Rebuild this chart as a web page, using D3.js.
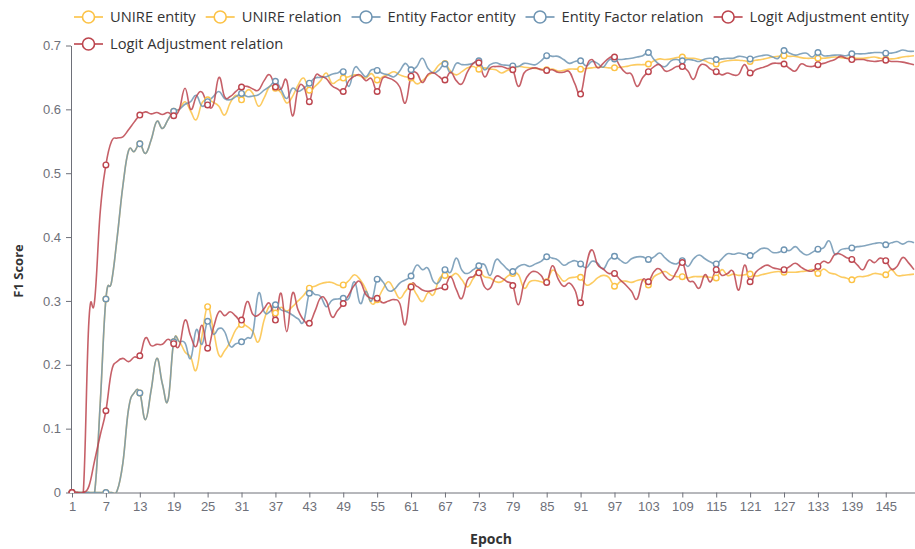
<!DOCTYPE html>
<html>
<head>
<meta charset="utf-8">
<script src="https://cdn.jsdelivr.net/npm/d3@7"></script>
<style>
  html, body { margin: 0; padding: 0; background: #fff; }
  svg { display: block; font-family: "Open Sans", "Noto Sans", sans-serif; }
</style>
</head>
<body>
<svg id="chart" width="915" height="549"></svg>
<script>
// epochs 1..150
var epochs = d3.range(1, 151);
var yTicks = [0, 0.1, 0.2, 0.3, 0.4, 0.5, 0.6, 0.7];

var unireEntity = [
  0, 0, 0, 0, 0, 0.14, 0.303, 0.33, 0.40, 0.48,
  0.535, 0.534, 0.546, 0.531, 0.552, 0.581, 0.570, 0.584, 0.597, 0.600,
  0.612, 0.597, 0.584, 0.610, 0.615, 0.611, 0.605, 0.591, 0.610, 0.622,
  0.615, 0.630, 0.625, 0.605, 0.618, 0.636, 0.633, 0.626, 0.610, 0.620,
  0.638, 0.649, 0.630, 0.636, 0.645, 0.657, 0.641, 0.645, 0.649, 0.651,
  0.654, 0.652, 0.649, 0.656, 0.646, 0.651, 0.655, 0.659, 0.654, 0.651,
  0.649, 0.640, 0.645, 0.653, 0.659, 0.670, 0.672, 0.660, 0.654, 0.659,
  0.665, 0.667, 0.663, 0.665, 0.663, 0.662, 0.657, 0.661, 0.664, 0.667,
  0.666, 0.665, 0.664, 0.663, 0.662, 0.663, 0.660, 0.661, 0.663, 0.663,
  0.663, 0.664, 0.665, 0.666, 0.666, 0.665, 0.665, 0.666, 0.667, 0.669,
  0.670, 0.670, 0.671, 0.676, 0.679, 0.678, 0.679, 0.681, 0.682, 0.680,
  0.680, 0.678, 0.676, 0.672, 0.671, 0.674, 0.676, 0.677, 0.677, 0.676,
  0.675, 0.677, 0.678, 0.680, 0.682, 0.683, 0.684, 0.683, 0.683, 0.681,
  0.680, 0.680, 0.680, 0.680, 0.681, 0.682, 0.681, 0.680, 0.680, 0.680,
  0.680, 0.681, 0.682, 0.680, 0.679, 0.679, 0.680, 0.682, 0.683, 0.684
];
var unireRelation = [
  0, 0, 0, 0, 0, 0, 0, 0, 0.003, 0.046,
  0.13, 0.156, 0.156, 0.114, 0.16, 0.21, 0.17, 0.145, 0.236, 0.236,
  0.22, 0.212, 0.192, 0.245, 0.291, 0.255, 0.215, 0.222, 0.236, 0.255,
  0.263, 0.260, 0.252, 0.236, 0.270, 0.292, 0.281, 0.290, 0.284, 0.291,
  0.300, 0.309, 0.320, 0.323, 0.327, 0.329, 0.329, 0.325, 0.325, 0.332,
  0.341, 0.333, 0.318, 0.296, 0.302, 0.318, 0.330, 0.318, 0.304, 0.315,
  0.323, 0.310, 0.299, 0.313, 0.310, 0.335, 0.340, 0.338, 0.343, 0.333,
  0.322, 0.335, 0.345, 0.338, 0.336, 0.330, 0.330, 0.338, 0.343, 0.341,
  0.320, 0.330, 0.332, 0.330, 0.330, 0.348, 0.341, 0.331, 0.336, 0.337,
  0.337, 0.325, 0.328, 0.336, 0.340, 0.337, 0.323, 0.330, 0.331, 0.329,
  0.332, 0.333, 0.325, 0.338, 0.343, 0.346, 0.340, 0.338, 0.338, 0.336,
  0.338, 0.338, 0.338, 0.337, 0.336, 0.349, 0.340, 0.342, 0.340, 0.341,
  0.342, 0.339, 0.341, 0.343, 0.345, 0.346, 0.345, 0.345, 0.345, 0.346,
  0.347, 0.349, 0.343, 0.350, 0.344, 0.342, 0.338, 0.336, 0.333, 0.338,
  0.338, 0.340, 0.343, 0.342, 0.341, 0.349, 0.340, 0.340, 0.341, 0.342
];
var factorEntity = [
  0, 0, 0, 0, 0, 0.14, 0.303, 0.33, 0.40, 0.48,
  0.535, 0.534, 0.546, 0.531, 0.552, 0.581, 0.570, 0.584, 0.597, 0.600,
  0.608, 0.612, 0.622, 0.605, 0.612, 0.620, 0.628, 0.617, 0.615, 0.620,
  0.625, 0.620, 0.621, 0.623, 0.630, 0.636, 0.644, 0.631, 0.617, 0.633,
  0.628, 0.633, 0.641, 0.649, 0.650, 0.651, 0.655, 0.657, 0.659, 0.636,
  0.665, 0.660, 0.651, 0.662, 0.661, 0.656, 0.654, 0.651, 0.660, 0.672,
  0.662, 0.667, 0.680, 0.664, 0.657, 0.662, 0.671, 0.657, 0.672, 0.670,
  0.670, 0.672, 0.676, 0.662, 0.670, 0.673, 0.670, 0.669, 0.668, 0.667,
  0.672, 0.671, 0.670, 0.676, 0.684, 0.683, 0.683, 0.678, 0.672, 0.675,
  0.676, 0.668, 0.675, 0.672, 0.666, 0.677, 0.679, 0.678, 0.679, 0.680,
  0.682, 0.684, 0.689, 0.678, 0.670, 0.667, 0.676, 0.678, 0.676, 0.678,
  0.677, 0.675, 0.679, 0.680, 0.678, 0.679, 0.680, 0.680, 0.683, 0.682,
  0.679, 0.682, 0.684, 0.685, 0.682, 0.680, 0.692, 0.688, 0.685, 0.687,
  0.688, 0.682, 0.689, 0.684, 0.684, 0.685, 0.685, 0.684, 0.687, 0.687,
  0.687, 0.688, 0.689, 0.689, 0.688, 0.688, 0.690, 0.693, 0.691, 0.691
];
var factorRelation = [
  0, 0, 0, 0, 0, 0, 0, 0, 0.003, 0.046,
  0.13, 0.156, 0.156, 0.114, 0.16, 0.21, 0.17, 0.145, 0.236, 0.236,
  0.234, 0.210, 0.255, 0.232, 0.268, 0.248, 0.257, 0.252, 0.229, 0.233,
  0.236, 0.242, 0.250, 0.312, 0.283, 0.283, 0.294, 0.286, 0.283, 0.278,
  0.272, 0.268, 0.312, 0.310, 0.307, 0.291, 0.301, 0.303, 0.304, 0.304,
  0.330, 0.296, 0.315, 0.300, 0.334, 0.330, 0.316, 0.318, 0.328, 0.333,
  0.339, 0.356, 0.349, 0.351, 0.330, 0.330, 0.349, 0.345, 0.367, 0.348,
  0.343, 0.349, 0.355, 0.357, 0.340, 0.364, 0.359, 0.350, 0.346, 0.354,
  0.357, 0.354, 0.358, 0.362, 0.369, 0.367, 0.364, 0.356, 0.360, 0.363,
  0.358, 0.352, 0.362, 0.359, 0.350, 0.364, 0.370, 0.364, 0.359, 0.366,
  0.369, 0.369, 0.365, 0.369, 0.375, 0.367, 0.360, 0.358, 0.363, 0.354,
  0.366, 0.372, 0.366, 0.361, 0.358, 0.366, 0.374, 0.373, 0.375, 0.373,
  0.371, 0.376, 0.382, 0.382, 0.376, 0.376, 0.380, 0.379, 0.385, 0.377,
  0.372, 0.376, 0.381, 0.383, 0.394, 0.373, 0.380, 0.382, 0.383, 0.385,
  0.386, 0.388, 0.390, 0.391, 0.388, 0.391, 0.393, 0.389, 0.393, 0.391
];
var logitEntity = [
  0, 0, 0, 0.27, 0.30, 0.44, 0.513, 0.55, 0.555, 0.557,
  0.568, 0.580, 0.591, 0.596, 0.593, 0.595, 0.592, 0.595, 0.590, 0.600,
  0.633, 0.600, 0.620, 0.627, 0.607, 0.607, 0.650, 0.620, 0.620, 0.628,
  0.635, 0.636, 0.632, 0.630, 0.645, 0.654, 0.635, 0.632, 0.645, 0.590,
  0.632, 0.636, 0.612, 0.651, 0.652, 0.648, 0.637, 0.632, 0.628, 0.645,
  0.652, 0.654, 0.645, 0.648, 0.628, 0.649, 0.649, 0.645, 0.635, 0.610,
  0.652, 0.657, 0.642, 0.655, 0.657, 0.651, 0.646, 0.658, 0.645, 0.640,
  0.659, 0.672, 0.673, 0.651, 0.665, 0.667, 0.667, 0.664, 0.662, 0.636,
  0.657, 0.663, 0.665, 0.662, 0.661, 0.662, 0.658, 0.658, 0.659, 0.640,
  0.624, 0.665, 0.678, 0.665, 0.672, 0.680, 0.682, 0.667, 0.657, 0.655,
  0.636, 0.650, 0.659, 0.667, 0.670, 0.660, 0.662, 0.667, 0.667, 0.660,
  0.647, 0.667, 0.670, 0.663, 0.659, 0.654, 0.657, 0.654, 0.655, 0.670,
  0.657, 0.662, 0.665, 0.668, 0.672, 0.672, 0.671, 0.664, 0.660, 0.671,
  0.668, 0.667, 0.670, 0.672, 0.675, 0.678, 0.683, 0.680, 0.678, 0.678,
  0.678, 0.676, 0.675, 0.676, 0.677, 0.675, 0.675, 0.674, 0.672, 0.670
];
var logitRelation = [
  0, 0, 0, 0.01, 0.05, 0.09, 0.128, 0.19, 0.205, 0.21,
  0.205, 0.212, 0.214, 0.242, 0.23, 0.232, 0.232, 0.24, 0.233, 0.23,
  0.27, 0.245, 0.229, 0.262, 0.226, 0.257, 0.283, 0.277, 0.283, 0.276,
  0.270, 0.299, 0.279, 0.278, 0.288, 0.296, 0.270, 0.312, 0.252, 0.312,
  0.286, 0.270, 0.265, 0.284, 0.305, 0.300, 0.275, 0.285, 0.296, 0.310,
  0.325, 0.330, 0.310, 0.304, 0.304, 0.297, 0.300, 0.302, 0.296, 0.263,
  0.322, 0.323, 0.317, 0.315, 0.317, 0.320, 0.322, 0.338, 0.318, 0.304,
  0.333, 0.338, 0.344, 0.322, 0.320, 0.338, 0.336, 0.330, 0.324, 0.294,
  0.328, 0.343, 0.346, 0.340, 0.329, 0.355, 0.335, 0.323, 0.328, 0.317,
  0.297, 0.355, 0.380, 0.357, 0.350, 0.343, 0.343, 0.333, 0.325, 0.315,
  0.303, 0.333, 0.330, 0.346, 0.350, 0.338, 0.333, 0.346, 0.360, 0.333,
  0.330, 0.320, 0.341, 0.330, 0.349, 0.340, 0.343, 0.346, 0.317, 0.356,
  0.330, 0.345, 0.352, 0.356, 0.352, 0.350, 0.349, 0.354, 0.359, 0.353,
  0.348, 0.347, 0.354, 0.362, 0.360, 0.373, 0.373, 0.368, 0.365, 0.356,
  0.349, 0.364, 0.360, 0.367, 0.363, 0.350, 0.354, 0.368, 0.360, 0.349
];

var seriesNames = ["UNIRE entity", "UNIRE relation", "Entity Factor entity",
                   "Entity Factor relation", "Logit Adjustment entity", "Logit Adjustment relation"];
var seriesData = [unireEntity, unireRelation, factorEntity, factorRelation, logitEntity, logitRelation];
var colors = ["#fcc245", "#fcc245", "#6f95b3", "#6f95b3", "#bc444d", "#bc444d"];

var svg = d3.select("#chart");

var x = d3.scalePoint().domain(epochs).range([72, 914]);
var y = d3.scaleLinear().domain([0, 0.7]).range([492.5, 45.5]);

var axisColor = "#6e7079";

// clip area for the lines
svg.append("clipPath").attr("id", "plotclip")
  .append("rect").attr("x", 60).attr("y", 30).attr("width", 860).attr("height", 463);

// x axis
var xAxis = svg.append("g")
  .attr("transform", "translate(0," + y(0) + ")")
  .call(d3.axisBottom(x)
    .tickValues(epochs.filter(function(d, i) { return i % 6 === 0; }))
    .tickSize(5).tickPadding(4).tickSizeOuter(0));
xAxis.select(".domain").attr("stroke", axisColor).attr("d", "M71,0.5H915");
xAxis.selectAll(".tick line").attr("stroke", axisColor);
xAxis.selectAll("text").attr("fill", axisColor).style("font-size", "13px");

// y axis
var yAxis = svg.append("g")
  .attr("transform", "translate(71,0)")
  .call(d3.axisLeft(y).tickValues(yTicks)
    .tickFormat(function(d) { return d === 0 ? "0" : d.toFixed(1); })
    .tickSize(5).tickPadding(5).tickSizeOuter(0));
yAxis.select(".domain").attr("stroke", axisColor);
yAxis.selectAll(".tick line").attr("stroke", axisColor);
yAxis.selectAll("text").attr("fill", axisColor).style("font-size", "13px");

// axis titles
svg.append("text")
  .attr("x", 491).attr("y", 544)
  .attr("text-anchor", "middle")
  .style("font-size", "14px").style("font-weight", "bold").attr("fill", "#333")
  .text("Epoch");
svg.append("text")
  .attr("transform", "translate(23,271) rotate(-90)")
  .attr("text-anchor", "middle")
  .style("font-size", "13px").style("font-weight", "bold").attr("fill", "#333")
  .text("F1 Score");

var line = d3.line()
  .curve(d3.curveCardinal.tension(-0.3))
  .x(function(d, i) { return x(epochs[i]); })
  .y(function(d) { return y(d); });

var plot = svg.append("g").attr("clip-path", "url(#plotclip)");

for (var s = 0; s < seriesData.length; s++) {
  plot.append("path")
    .datum(seriesData[s])
    .attr("fill", "none")
    .attr("stroke", colors[s])
    .attr("stroke-opacity", 0.85)
    .attr("stroke-width", 1.6)
    .attr("d", line);
}

// hollow symbols on every labelled epoch
for (var s = 0; s < seriesData.length; s++) {
  plot.selectAll(null)
    .data(seriesData[s].map(function(v, i) { return {v: v, i: i}; })
      .filter(function(d) { return d.i % 6 === 0; }))
    .enter().append("circle")
    .attr("cx", function(d) { return x(epochs[d.i]); })
    .attr("cy", function(d) { return y(d.v); })
    .attr("r", 2.8)
    .attr("fill", "#fff")
    .attr("stroke", colors[s])
    .attr("stroke-width", 1.4);
}

// legend, wrapping like the original
var legend = svg.append("g");
var lx = 74, ly = 17, rowH = 27, maxX = 912;
for (var s = 0; s < seriesNames.length; s++) {
  var item = legend.append("g");
  item.append("line")
    .attr("x1", 0).attr("x2", 29).attr("y1", 0).attr("y2", 0)
    .attr("stroke", colors[s]).attr("stroke-width", 1.6);
  item.append("circle")
    .attr("cx", 14.5).attr("cy", 0).attr("r", 6)
    .attr("fill", "#fff").attr("stroke", colors[s]).attr("stroke-width", 1.6);
  var t = item.append("text")
    .attr("x", 36).attr("y", 0).attr("dy", "0.35em")
    .style("font-size", "14.7px").attr("fill", "#333")
    .text(seriesNames[s]);
  var w = 36 + t.node().getComputedTextLength();
  if (lx + w > maxX) { lx = 74; ly += rowH; }
  item.attr("transform", "translate(" + lx + "," + ly + ")");
  lx += w + 10;
}
</script>
</body>
</html>
